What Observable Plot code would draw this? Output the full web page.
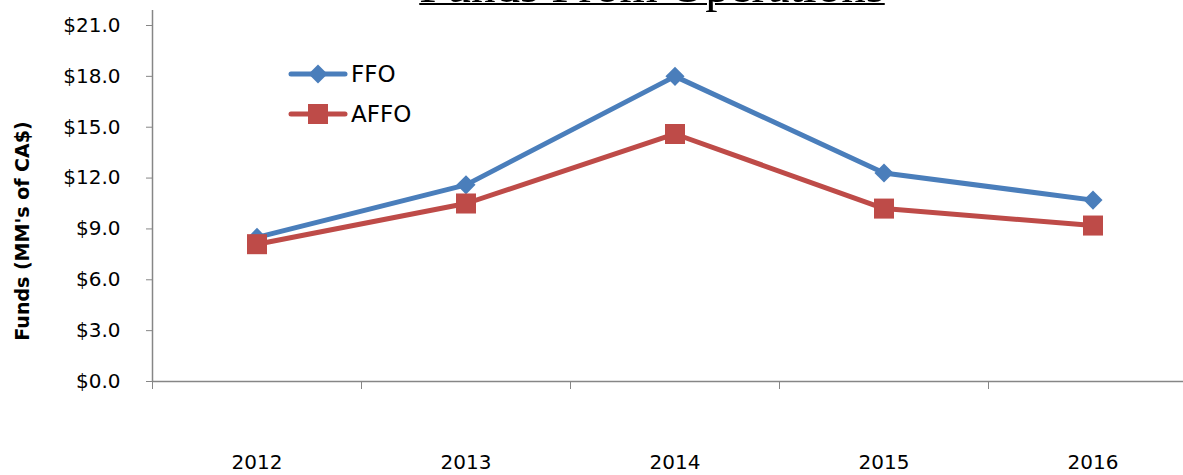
<!DOCTYPE html>
<html>
<head>
<meta charset="utf-8">
<script src="https://cdn.jsdelivr.net/npm/d3@7"></script>
<script src="https://cdn.jsdelivr.net/npm/@observablehq/plot@0.6"></script>
<style>
  html, body { margin: 0; padding: 0; background: #fff; }
  #wrap { position: relative; width: 1183px; height: 475px; overflow: hidden; font-family: "DejaVu Sans", sans-serif; }
  #title {
    position: absolute; left: 0; width: 1304px; text-align: center; top: -42px;
    font-family: "Liberation Serif", "DejaVu Serif", serif; font-size: 49px; line-height: 56px; color: #000;
    text-decoration: underline; text-decoration-thickness: 2px; text-underline-offset: 1px;
    white-space: nowrap;
  }
  #legend { position: absolute; left: 288px; top: 54px; }
  #legend .row { display: flex; align-items: center; height: 40px; font-size: 23px; color: #000; }
  #legend svg { margin-right: 3px; }
</style>
</head>
<body>
<div id="wrap">
  <div id="title">Funds From Operations</div>
  <div id="legend"></div>
</div>
<script>
// Annual funds from operations, millions of CA$
const years = [2012, 2013, 2014, 2015, 2016];
const ffo  = [8.5, 11.6, 18.0, 12.3, 10.7];
const affo = [8.1, 10.5, 14.6, 10.2, 9.2];
const yTicks = [0, 3, 6, 9, 12, 15, 18, 21];
const seriesNames = ["FFO", "AFFO"];
const seriesColors = ["#4A7EBB", "#BE4B48"];
const yLabel = "Funds (MM's of CA$)";

// category boundaries sit halfway between years
const bounds = [...years.map(y => y - 0.5), years[years.length - 1] + 0.5];

const rows = (vals) => years.map((year, i) => ({year, value: vals[i]}));
const axisGrey = "#868686";

const chart = Plot.plot({
  width: 1183,
  height: 475,
  marginLeft: 152,
  marginRight: 0,
  marginTop: 10,
  marginBottom: 94,
  style: {fontFamily: "DejaVu Sans, sans-serif", background: "transparent", overflow: "visible"},
  x: {type: "linear", domain: [bounds[0], bounds[bounds.length - 1]], range: [152, 1197]},
  y: {domain: [0, 21], range: [381, 25]},
  marks: [
    Plot.ruleX([bounds[0]], {stroke: axisGrey, strokeWidth: 1.5}),
    Plot.ruleY([0], {stroke: axisGrey, strokeWidth: 1.5}),
    Plot.axisY({ticks: yTicks, tickFormat: d => "$" + d.toFixed(1), tickSize: 6, tickPadding: 26,
      stroke: axisGrey, fill: "#000", fontSize: 20, label: null}),
    Plot.axisX({ticks: bounds, tickFormat: () => "", tickSize: 8, stroke: axisGrey, label: null}),
    Plot.axisX({ticks: years, tickFormat: d => String(d), tickSize: 0, tickPadding: 73,
      fill: "#000", fontSize: 20, label: null}),
    Plot.text([yLabel], {frameAnchor: "left", textAnchor: "middle", rotate: -90, dx: -130, dy: 35,
      fontSize: 19, fontWeight: "bold", fill: "#000"}),
    Plot.line(rows(ffo), {x: "year", y: "value", stroke: seriesColors[0], strokeWidth: 5}),
    Plot.dot(rows(ffo), {x: "year", y: "value", symbol: "diamond2", r: 8.6, fill: seriesColors[0], stroke: null}),
    Plot.line(rows(affo), {x: "year", y: "value", stroke: seriesColors[1], strokeWidth: 5}),
    Plot.dot(rows(affo), {x: "year", y: "value", symbol: "square", r: 11.3, fill: seriesColors[1], stroke: null})
  ]
});
document.getElementById("wrap").prepend(chart);

// legend: line swatch with marker, then the series name
const legend = d3.select("#legend");
seriesNames.forEach((name, i) => {
  const row = legend.append("div").attr("class", "row");
  const svg = row.append("svg").attr("width", 60).attr("height", 24);
  svg.append("line").attr("x1", 3).attr("x2", 57).attr("y1", 12).attr("y2", 12)
    .attr("stroke", seriesColors[i]).attr("stroke-width", 5).attr("stroke-linecap", "round");
  if (i === 0) {
    svg.append("path").attr("d", "M30,2.5L39.5,12L30,21.5L20.5,12Z").attr("fill", seriesColors[i]);
  } else {
    svg.append("rect").attr("x", 20).attr("y", 2).attr("width", 20).attr("height", 20).attr("fill", seriesColors[i]);
  }
  row.append("span").text(name);
});
</script>
</body>
</html>
